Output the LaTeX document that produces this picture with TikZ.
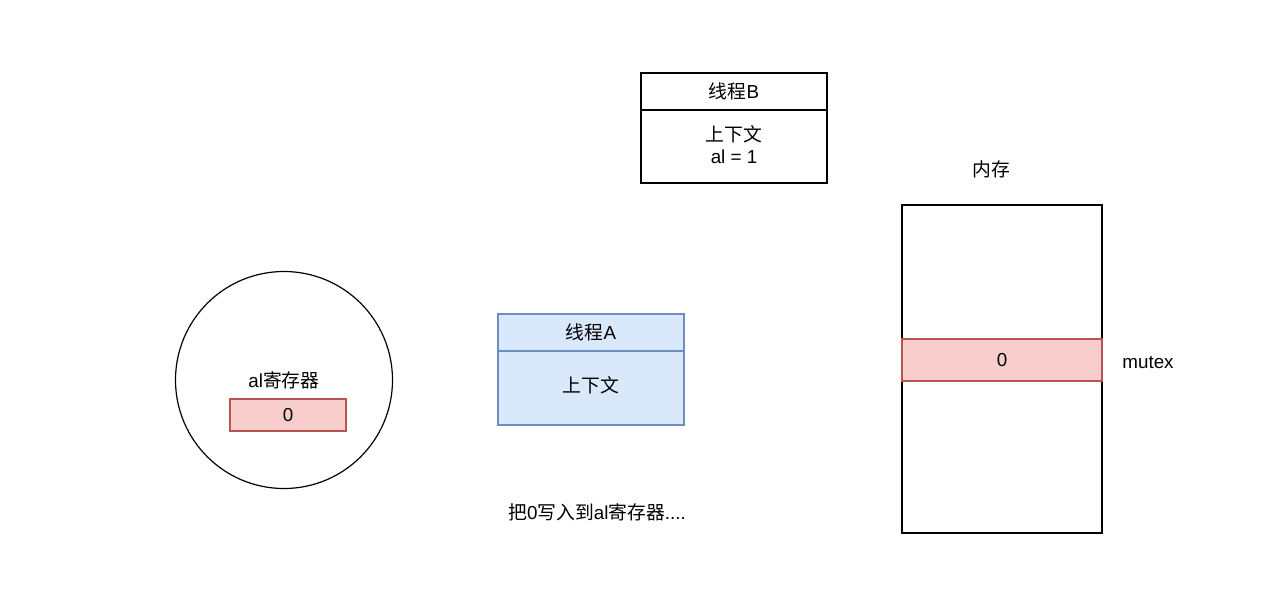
\documentclass[tikz,border=0pt]{standalone}
\usepackage{fontspec}
\setmainfont{Liberation Sans}
\newfontfamily\cjk{Noto Sans CJK SC}
\definecolor{pinkf}{HTML}{F8CECC}
\definecolor{pinkd}{HTML}{B85450}
\definecolor{bluef}{HTML}{DAE8FC}
\definecolor{blued}{HTML}{6C8EBF}
\tikzset{
  box/.style={draw=black, line width=1.2pt},
  pinkbox/.style={draw=pinkd, fill=pinkf, line width=1.2pt},
  bluebox/.style={draw=blued, fill=bluef, line width=1.2pt},
  lbl/.style={inner sep=0pt, font=\fontsize{18.8}{22}\selectfont},
}
\begin{document}
\begin{tikzpicture}[x=1pt,y=-1pt]
\useasboundingbox[fill=white] (0,0) rectangle (1273,598);
% Thread B
\draw[box] (641,73) rectangle (827,183);
\draw[box] (641,110) -- (827,110);
\node[lbl] (tb) at (734,91) {{\cjk 线程}B};
\node[lbl] (tbc) at (734,134) {\cjk 上下文};
\node[lbl] (tbv) at (734,157) {al = 1};
% Memory
\node[lbl] (mem) at (991,169) {\cjk 内存};
\draw[box] (902,205) rectangle (1102,533);
\draw[pinkbox] (902,339) rectangle (1102,381);
\node[lbl] (m0) at (1002,360) {0};
\node[lbl] (mutex) at (1148,363) {mutex};
% Register circle
\draw[box] (284,380) circle (108.5);
\node[lbl] (reg) at (284,380) {al{\cjk 寄存器}};
\draw[pinkbox] (230,399) rectangle (346,431);
\node[lbl] (r0) at (288,415) {0};
% Thread A
\draw[bluebox] (498,314) rectangle (684,425);
\draw[bluebox] (498,351) -- (684,351);
\node[lbl] (ta) at (591,332) {{\cjk 线程}A};
\node[lbl] (tac) at (591,385) {\cjk 上下文};
% bottom text
\node[lbl] (note) at (597,512) {{\cjk 把}0{\cjk 写入到}al{\cjk 寄存器}....};
\end{tikzpicture}
\end{document}
